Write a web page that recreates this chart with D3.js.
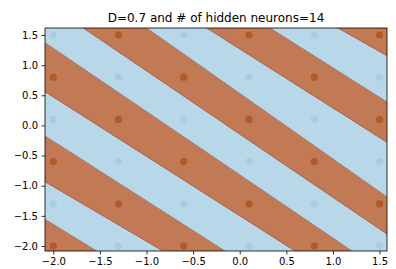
<!DOCTYPE html>
<html>
<head>
<meta charset="utf-8">
<script src="https://cdn.jsdelivr.net/npm/d3@7"></script>
<style>
  body { margin: 0; background: #fff; }
  svg { display: block; font-family: "DejaVu Sans", sans-serif; }
</style>
</head>
<body>
<svg></svg>
<script>
var title = "D=0.7 and # of hidden neurons=14";

// tick labels
var xTicks = [-2.0, -1.5, -1.0, -0.5, 0.0, 0.5, 1.0, 1.5];
var yTicks = [-2.0, -1.5, -1.0, -0.5, 0.0, 0.5, 1.0, 1.5];

// training points on a grid, class per row (y from -2.0 upward)
var gridX = [-2.0, -1.3, -0.6, 0.1, 0.8, 1.5];
var gridY = [-2.0, -1.3, -0.6, 0.1, 0.8, 1.5];
var gridLabels = [
    [1, 0, 1, 0, 1, 0],
    [0, 1, 0, 1, 0, 1],
    [1, 0, 1, 0, 1, 0],
    [0, 1, 0, 1, 0, 1],
    [1, 0, 1, 0, 1, 0],
    [0, 1, 0, 1, 0, 1]
];

// decision boundaries, y = intercept + slope * x
var boundaryIntercept = [-3.537, -2.830, -2.239, -1.498, -0.819, -0.144, 0.531, 1.269, 1.934, 2.538];
var boundarySlope = [-0.948, -0.908, -0.988, -0.985, -1.049, -1.049, -1.087, -0.980, -0.978, -0.874];
// predicted class of each stripe between boundaries, bottom-left to top-right
var stripeClass = [1, 0, 1, 0, 1, 0, 1, 0, 1, 0, 1];

var width = 396, height = 269;
var margin = { left: 45, right: 9, top: 28, bottom: 18 };

var svg = d3.select("svg")
    .attr("width", width)
    .attr("height", height);

var x = d3.scaleLinear()
    .domain([-2.089, 1.58])
    .range([margin.left, width - margin.right]);
var y = d3.scaleLinear()
    .domain([-2.083, 1.616])
    .range([height - margin.bottom, margin.top]);

var fillColor = ["rgb(184,216,233)", "rgb(193,122,83)"];
var pointColor = ["rgb(166,206,227)", "rgb(177,89,40)"];

svg.append("clipPath")
    .attr("id", "plotclip")
    .append("rect")
    .attr("x", x.range()[0])
    .attr("y", y.range()[1])
    .attr("width", x.range()[1] - x.range()[0])
    .attr("height", y.range()[0] - y.range()[1]);

var plot = svg.append("g").attr("clip-path", "url(#plotclip)");

// stripes
var xs = [-4, 4];
function lineY(k, xv) {
    if (k < 0) return -12;
    if (k >= boundaryIntercept.length) return 12;
    return boundaryIntercept[k] + boundarySlope[k] * xv;
}
var stripes = stripeClass.map(function(c, i) {
    var lo = xs.map(function(xv) { return [xv, lineY(i - 1, xv)]; });
    var hi = xs.slice().reverse().map(function(xv) { return [xv, lineY(i, xv)]; });
    return { cls: c, pts: lo.concat(hi) };
});

plot.selectAll(".stripe")
    .data(stripes)
    .enter()
    .append("path")
    .attr("class", "stripe")
    .attr("d", d => "M" + d.pts.map(p => x(p[0]) + "," + y(p[1])).join("L") + "Z")
    .attr("fill", d => fillColor[d.cls])
    .attr("stroke", d => fillColor[d.cls])
    .attr("stroke-width", 0.5);

// thin dark edge where the contour levels meet
plot.selectAll(".edge")
    .data(boundaryIntercept)
    .enter()
    .append("line")
    .attr("class", "edge")
    .attr("x1", x(-4)).attr("x2", x(4))
    .attr("y1", (d, i) => y(d + boundarySlope[i] * -4))
    .attr("y2", (d, i) => y(d + boundarySlope[i] * 4))
    .attr("stroke", "rgb(150,85,75)")
    .attr("stroke-width", 0.7);

// points
var points = [];
gridY.forEach(function(yv, r) {
    gridX.forEach(function(xv, c) {
        points.push({ x: xv, y: yv, label: gridLabels[r][c] });
    });
});

plot.selectAll(".pt")
    .data(points)
    .enter()
    .append("circle")
    .attr("class", "pt")
    .attr("cx", d => x(d.x))
    .attr("cy", d => y(d.y))
    .attr("r", 3.6)
    .attr("fill", d => pointColor[d.label]);

// axes
var fmt = d => d3.format(".1f")(d).replace("-", "\u2212");

var xAxis = svg.append("g")
    .attr("transform", "translate(0," + y.range()[0] + ")")
    .call(d3.axisBottom(x).tickValues(xTicks).tickFormat(fmt).tickSizeInner(3.5).tickSizeOuter(0).tickPadding(3.5));
var yAxis = svg.append("g")
    .attr("transform", "translate(" + x.range()[0] + ",0)")
    .call(d3.axisLeft(y).tickValues(yTicks).tickFormat(fmt).tickSizeInner(3.5).tickSizeOuter(0).tickPadding(3.5));

[xAxis, yAxis].forEach(function(a) {
    a.select(".domain").remove();
    a.selectAll("text").attr("font-size", 10).attr("font-family", "DejaVu Sans").attr("fill", "#000");
    a.selectAll("line").attr("stroke", "#000").attr("stroke-width", 0.8);
});

// frame
svg.append("rect")
    .attr("x", x.range()[0])
    .attr("y", y.range()[1])
    .attr("width", x.range()[1] - x.range()[0])
    .attr("height", y.range()[0] - y.range()[1])
    .attr("fill", "none")
    .attr("stroke", "#000")
    .attr("stroke-width", 0.8);

svg.append("text")
    .attr("x", (x.range()[0] + x.range()[1]) / 2)
    .attr("y", 21.5)
    .attr("text-anchor", "middle")
    .attr("font-size", 12)
    .text(title);
</script>
</body>
</html>
